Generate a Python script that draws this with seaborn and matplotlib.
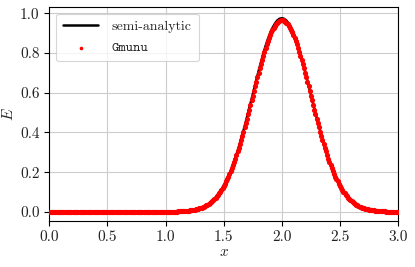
import numpy as np
import pandas as pd
import matplotlib
matplotlib.use("Agg")
import matplotlib.pyplot as plt
import seaborn as sns

# Gmunu samples: dx = 0.01 on [0, 3]; E (zero outside 1.10..2.90)
gmunu_left = [
    0.001, 0.002, 0.002, 0.002, 0.003, 0.003, 0.003, 0.004, 0.004, 0.005,
    0.006, 0.007, 0.007, 0.008, 0.009, 0.011, 0.012, 0.014, 0.015, 0.017,
    0.019, 0.021, 0.024, 0.027, 0.030, 0.033, 0.036, 0.040, 0.045, 0.049,
    0.054, 0.060, 0.065, 0.072, 0.079, 0.086, 0.094, 0.102, 0.111, 0.120,
    0.131, 0.141, 0.153, 0.165, 0.178, 0.191, 0.205, 0.220, 0.235, 0.251,
    0.268, 0.286, 0.304, 0.323, 0.342, 0.362, 0.383, 0.404, 0.425, 0.447,
    0.470, 0.492, 0.515, 0.539, 0.562, 0.585, 0.609, 0.632, 0.655, 0.678,
    0.701, 0.723, 0.745, 0.766, 0.786, 0.806, 0.825, 0.843, 0.860, 0.876,
    0.891, 0.904, 0.917, 0.928, 0.938, 0.946, 0.953, 0.958, 0.962, 0.964,
    0.965,
]
gmunu_right = [
    0.964, 0.962, 0.958, 0.953, 0.946, 0.938, 0.928, 0.917, 0.904, 0.891,
    0.876, 0.860, 0.843, 0.825, 0.806, 0.786, 0.766, 0.745, 0.723, 0.701,
    0.678, 0.655, 0.632, 0.609, 0.585, 0.562, 0.539, 0.515, 0.492, 0.470,
    0.447, 0.425, 0.404, 0.383, 0.362, 0.342, 0.323, 0.304, 0.286, 0.268,
    0.251, 0.235, 0.220, 0.205, 0.191, 0.178, 0.165, 0.153, 0.141, 0.131,
    0.120, 0.111, 0.102, 0.094, 0.086, 0.079, 0.072, 0.065, 0.060, 0.054,
    0.049, 0.045, 0.040, 0.036, 0.033, 0.030, 0.027, 0.024, 0.021, 0.019,
    0.017, 0.015, 0.014, 0.012, 0.011, 0.009, 0.008, 0.007, 0.007, 0.006,
    0.005, 0.004, 0.004, 0.003, 0.003, 0.003, 0.002, 0.002, 0.002, 0.001,
]

# semi-analytic curve: dx = 0.02 on [0, 3]; zero outside 1.10..2.90
exact_left = [
    0.001, 0.002, 0.003, 0.003, 0.004, 0.006, 0.008, 0.010, 0.012, 0.015,
    0.019, 0.024, 0.030, 0.037, 0.045, 0.055, 0.066, 0.079, 0.095, 0.112,
    0.132, 0.154, 0.179, 0.207, 0.238, 0.271, 0.307, 0.346, 0.387, 0.430,
    0.475, 0.521, 0.568, 0.615, 0.662, 0.708, 0.752, 0.794, 0.834, 0.869,
    0.900, 0.926, 0.947, 0.963, 0.972, 0.975,
]
exact_right = [
    0.972, 0.963, 0.947, 0.926, 0.900, 0.869, 0.834, 0.794, 0.752, 0.708,
    0.662, 0.615, 0.568, 0.521, 0.475, 0.430, 0.387, 0.346, 0.307, 0.271,
    0.238, 0.207, 0.179, 0.154, 0.132, 0.112, 0.095, 0.079, 0.066, 0.055,
    0.045, 0.037, 0.030, 0.024, 0.019, 0.015, 0.012, 0.010, 0.008, 0.006,
    0.004, 0.003, 0.003, 0.002, 0.001,
]

gmunu_x = np.linspace(0.0, 3.0, 301)
gmunu_E = np.concatenate([np.zeros(110), gmunu_left, gmunu_right, np.zeros(10)])
exact_x = np.linspace(0.0, 3.0, 151)
exact_E = np.concatenate([np.zeros(55), exact_left, exact_right, np.zeros(5)])

x_ticks = [0.0, 0.5, 1.0, 1.5, 2.0, 2.5, 3.0]
y_ticks = [0.0, 0.2, 0.4, 0.6, 0.8, 1.0]


def main() -> None:
    sns.set_style("ticks", {"axes.grid": True, "grid.color": "#cccccc",
                            "axes.edgecolor": "black"})
    plt.rcParams["font.family"] = ["cmr10", "DejaVu Serif"]
    plt.rcParams["mathtext.fontset"] = "cm"
    plt.rcParams["axes.formatter.use_mathtext"] = True
    plt.rcParams["font.size"] = 10

    gmunu = pd.DataFrame({"x": gmunu_x, "E": gmunu_E})
    exact = pd.DataFrame({"x": exact_x, "E": exact_E})

    fig = plt.figure(figsize=(4.15, 2.67), dpi=100)
    ax = fig.add_axes([0.119, 0.173, 0.840, 0.802])

    sns.lineplot(data=exact, x="x", y="E", color="black", linewidth=1.8,
                 sort=False, estimator=None, label="semi-analytic", ax=ax)
    sns.scatterplot(data=gmunu, x="x", y="E", color="red", s=14,
                    linewidth=0, label="Gmunu", ax=ax, zorder=3)

    ax.set_xlim(0.0, 3.0)
    ax.set_ylim(-0.045, 1.033)
    ax.set_xticks(x_ticks)
    ax.set_yticks(y_ticks)
    ax.set_xticklabels([f"{t:.1f}" for t in x_ticks])
    ax.set_yticklabels([f"{t:.1f}" for t in y_ticks])
    ax.tick_params(labelsize=11, length=3.5, width=0.8, color="black",
                   labelcolor="#222222")
    ax.grid(True, color="#cccccc", linewidth=0.8)
    ax.set_xlabel("$x$", fontsize=11, labelpad=1)
    ax.set_ylabel("$E$", fontsize=11, labelpad=3)
    for s in ax.spines.values():
        s.set_linewidth(0.8)
        s.set_color("black")

    leg = ax.legend(loc="upper left", fontsize=10, frameon=True,
                    framealpha=0.8, edgecolor="#cccccc", markerscale=0.7,
                    handlelength=2.5, borderpad=0.5, labelspacing=0.6,
                    handletextpad=1.0)
    leg.get_frame().set_linewidth(0.8)
    leg.get_texts()[1].set_family(["cmtt10", "DejaVu Sans Mono"])

    fig.savefig("out.png", dpi=100)
    plt.close(fig)


if __name__ == "__main__":
    main()
